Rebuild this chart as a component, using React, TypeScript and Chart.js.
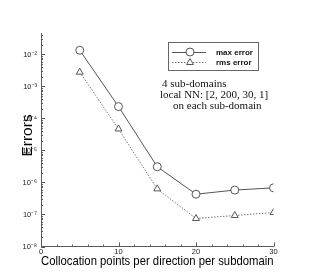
import React, { useEffect, useRef } from "react";
import { Chart, registerables } from "chart.js";

Chart.register(...registerables);

const collocationPoints = [5, 10, 15, 20, 25, 30];
const maxError = [1.35e-2, 2.35e-4, 3.1e-6, 4.3e-7, 5.8e-7, 6.8e-7];
const rmsError = [2.8e-3, 4.7e-5, 6.3e-7, 7.5e-8, 9.3e-8, 1.15e-7];
const xTicks = [0, 10, 20, 30];
const yDecades = [-8, -7, -6, -5, -4, -3, -2];
const yTickLabels = ["10⁻⁸", "10⁻⁷", "10⁻⁶", "10⁻⁵", "10⁻⁴", "10⁻³", "10⁻²"];
const legendLabels = ["max error", "rms error"];
const noteLines = ["4 sub-domains", "local NN: [2, 200, 30, 1]", "on each sub-domain"];

const Y_MIN = 1e-8;
const Y_MAX = Math.pow(10, -1.33);
const AXIS_COLOR = "#5a5a5a";

const tickPlugin = {
  id: "innerTicks",
  afterDraw(chart: any) {
    const ctx = chart.ctx;
    const xs = chart.scales.x;
    const ys = chart.scales.y;
    const { left, bottom } = chart.chartArea;
    ctx.save();
    ctx.strokeStyle = AXIS_COLOR;
    ctx.lineWidth = 1;
    ctx.beginPath();
    // x ticks
    for (let v = 0; v <= 30; v += 2) {
      const px = Math.round(xs.getPixelForValue(v)) + 0.5;
      const len = v % 10 === 0 ? 4 : 2;
      ctx.moveTo(px, bottom);
      ctx.lineTo(px, bottom - len);
    }
    // y ticks
    for (let e = -8; e <= -2; e++) {
      for (let m = 1; m <= 9; m++) {
        const v = m * Math.pow(10, e);
        if (v > Y_MAX || v < Y_MIN) continue;
        const py = Math.round(ys.getPixelForValue(v)) + 0.5;
        const len = m === 1 ? 4 : 2;
        ctx.moveTo(left, py);
        ctx.lineTo(left + len, py);
      }
    }
    ctx.stroke();
    ctx.restore();
  },
};

const legendPlugin = {
  id: "boxLegend",
  afterDraw(chart: any) {
    const ctx = chart.ctx;
    ctx.save();
    ctx.strokeStyle = "#666";
    ctx.lineWidth = 1;
    ctx.strokeRect(168.5, 42.5, 90, 28);
    const rows = [
      { y: 52.5, dash: [], style: "circle", label: legendLabels[0] },
      { y: 62.5, dash: [1.5, 1.5], style: "triangle", label: legendLabels[1] },
    ];
    rows.forEach((r) => {
      ctx.save();
      ctx.strokeStyle = r.dash.length ? "#777" : "#555";
      ctx.setLineDash(r.dash);
      ctx.beginPath();
      ctx.moveTo(172, r.y);
      ctx.lineTo(206, r.y);
      ctx.stroke();
      ctx.restore();
      ctx.save();
      ctx.strokeStyle = "#444";
      ctx.fillStyle = "#fff";
      ctx.lineWidth = 0.9;
      ctx.beginPath();
      if (r.style === "circle") {
        ctx.arc(190, r.y - 0.5, 4, 0, Math.PI * 2);
      } else {
        const rad = 4;
        ctx.moveTo(190, r.y - rad);
        ctx.lineTo(190 + rad * 0.866, r.y + rad * 0.5);
        ctx.lineTo(190 - rad * 0.866, r.y + rad * 0.5);
        ctx.closePath();
      }
      ctx.fill();
      ctx.stroke();
      ctx.restore();
      ctx.fillStyle = "#111";
      ctx.font = "bold 8px 'Liberation Sans', Arial, sans-serif";
      ctx.textBaseline = "middle";
      ctx.textAlign = "left";
      ctx.fillText(r.label, 216, r.y);
    });
    // annotation
    ctx.fillStyle = "#111";
    ctx.font = "11px 'Liberation Serif', 'Times New Roman', serif";
    ctx.textBaseline = "alphabetic";
    ctx.fillText(noteLines[0], 162, 87);
    ctx.fillText(noteLines[1], 160, 98);
    ctx.fillText(noteLines[2], 173, 109);
    ctx.restore();
  },
};

export default function App() {
  const canvasRef = useRef<HTMLCanvasElement | null>(null);

  useEffect(() => {
    const canvas = canvasRef.current;
    if (!canvas) return;
    const chart = new Chart(canvas, {
      type: "line",
      data: {
        datasets: [
          {
            label: legendLabels[0],
            data: collocationPoints.map((x, i) => ({ x, y: maxError[i] })),
            borderColor: "#555",
            borderWidth: 1,
            pointStyle: "circle",
            pointRadius: 4,
            pointBorderColor: "#444",
            pointBackgroundColor: "#fff",
            pointBorderWidth: 0.9,
            tension: 0,
          },
          {
            label: legendLabels[1],
            data: collocationPoints.map((x, i) => ({ x, y: rmsError[i] })),
            borderColor: "#777",
            borderWidth: 1,
            borderDash: [1.5, 1.5],
            pointStyle: "triangle",
            pointRadius: 4,
            pointBorderColor: "#444",
            pointBackgroundColor: "#fff",
            pointBorderWidth: 0.9,
            tension: 0,
          },
        ],
      },
      options: {
        animation: false,
        responsive: false,
        devicePixelRatio: 1,
        layout: { padding: { top: 33, right: 37.5, left: 0, bottom: 0 } },
        plugins: {
          legend: { display: false },
          tooltip: { enabled: false },
        },
        scales: {
          x: {
            type: "linear",
            min: 0,
            max: 30,
            grid: { display: false, drawTicks: false },
            border: { display: true, color: AXIS_COLOR, width: 1 },
            afterBuildTicks: (scale: any) => {
              scale.ticks = xTicks.map((v) => ({ value: v }));
            },
            afterFit: (scale: any) => {
              scale.height = 30.5;
            },
            ticks: {
              padding: 1,
              maxRotation: 0,
              autoSkip: false,
              color: "#222",
              font: { family: "'Liberation Sans', Arial, sans-serif", size: 7.5 },
              callback: (v: any) => String(v),
            },
            title: {
              display: true,
              text: "Collocation points per direction per subdomain",
              color: "#000",
              font: { family: "'Liberation Sans', Arial, sans-serif", size: 12.6 },
              padding: { top: 0, bottom: 8.1 },
            },
          },
          y: {
            type: "logarithmic",
            min: Y_MIN,
            max: Y_MAX,
            grid: { display: false, drawTicks: false },
            border: { display: true, color: AXIS_COLOR, width: 1 },
            afterBuildTicks: (scale: any) => {
              scale.ticks = yDecades.map((e) => ({ value: Math.pow(10, e) }));
            },
            afterFit: (scale: any) => {
              scale.width = 41;
            },
            ticks: {
              padding: 4,
              autoSkip: false,
              color: "#222",
              font: { family: "'Liberation Sans', Arial, sans-serif", size: 7.5 },
              callback: (v: any) => {
                const e = Math.round(Math.log10(Number(v)));
                const idx = yDecades.indexOf(e);
                return idx >= 0 ? yTickLabels[idx] : "";
              },
            },
            title: {
              display: true,
              text: "  Errors",
              color: "#000",
              font: { family: "'Liberation Sans', Arial, sans-serif", size: 15.5 },
              padding: { top: 18.6, bottom: 0 },
            },
          },
        },
      },
      plugins: [tickPlugin, legendPlugin],
    });
    return () => chart.destroy();
  }, []);

  return (
    <div style={{ position: "absolute", left: 0, top: 0, width: 311, height: 277, background: "#fff" }}>
      <canvas ref={canvasRef} width={311} height={277} style={{ display: "block" }} />
    </div>
  );
}
